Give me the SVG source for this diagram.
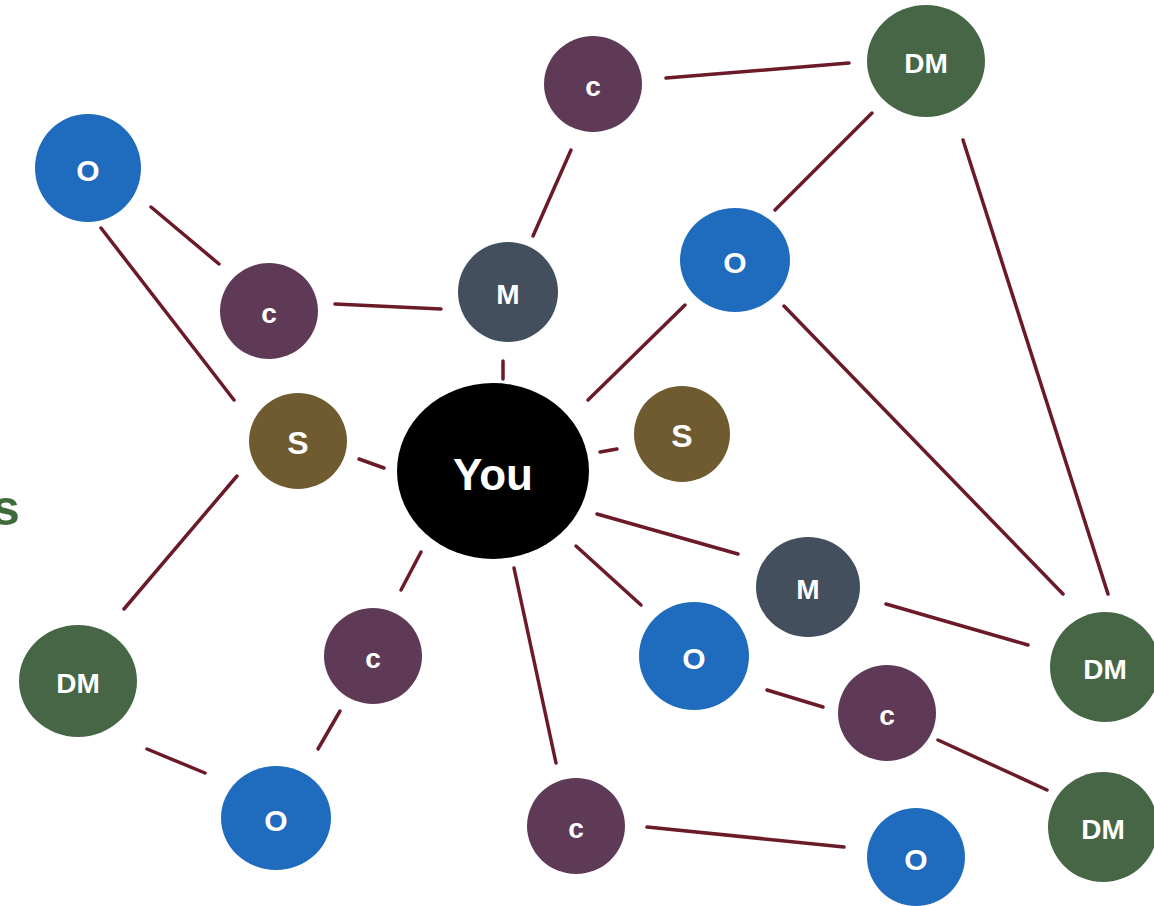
<svg xmlns="http://www.w3.org/2000/svg" width="1154" height="906" viewBox="0 0 1154 906">
<style>
.e{stroke:#6b1a28;stroke-width:3.5;stroke-linecap:round;fill:none}
.t{fill:#fff;font-family:"Liberation Sans",Arial,sans-serif;font-weight:bold;text-anchor:middle;dominant-baseline:central}
.o{fill:#1f6bbd}.c{fill:#5f3a56}.m{fill:#434f5d}.s{fill:#6f5b2f}.d{fill:#466646}.y{fill:#000}
</style>
<rect width="1154" height="906" fill="#fff"/>
<text x="-8" y="508" font-family="Liberation Sans,Arial,sans-serif" font-weight="bold" font-size="50" fill="#3f6a3a" dominant-baseline="central">s</text>
<g id="connectors">
<line class="e" x1="666" y1="78" x2="849" y2="63"/>
<line class="e" x1="571" y1="150" x2="533" y2="236"/>
<line class="e" x1="872" y1="113" x2="775" y2="210"/>
<line class="e" x1="963" y1="140" x2="1108" y2="594"/>
<line class="e" x1="151" y1="207" x2="219" y2="264"/>
<line class="e" x1="101" y1="228" x2="234" y2="400"/>
<line class="e" x1="335" y1="304" x2="441" y2="309"/>
<line class="e" x1="503" y1="361" x2="503" y2="379"/>
<line class="e" x1="685" y1="305" x2="588" y2="400"/>
<line class="e" x1="784" y1="306" x2="1063" y2="594"/>
<line class="e" x1="359" y1="459" x2="384" y2="468"/>
<line class="e" x1="600" y1="452" x2="617" y2="449"/>
<line class="e" x1="237" y1="476" x2="124" y2="609"/>
<line class="e" x1="597" y1="514" x2="738" y2="554"/>
<line class="e" x1="886" y1="604" x2="1028" y2="645"/>
<line class="e" x1="576" y1="546" x2="641" y2="605"/>
<line class="e" x1="421" y1="552" x2="401" y2="590"/>
<line class="e" x1="514" y1="568" x2="556" y2="763"/>
<line class="e" x1="767" y1="690" x2="823" y2="707"/>
<line class="e" x1="938" y1="740" x2="1047" y2="790"/>
<line class="e" x1="340" y1="711" x2="318" y2="749"/>
<line class="e" x1="147" y1="749" x2="205" y2="773"/>
<line class="e" x1="647" y1="827" x2="844" y2="847"/>
</g>
<g id="you"><ellipse class="y" cx="493" cy="471" rx="96" ry="88"/><text class="t" x="493" y="474" font-size="44">You</text></g>
<g id="c1"><ellipse class="c" cx="593" cy="84" rx="49" ry="48"/><text class="t" x="593" y="86" font-size="28">c</text></g>
<g id="dm1"><ellipse class="d" cx="926" cy="61" rx="59" ry="56"/><text class="t" x="926" y="63" font-size="28">DM</text></g>
<g id="o1"><ellipse class="o" cx="88" cy="168" rx="53" ry="54"/><text class="t" x="88" y="170" font-size="30">O</text></g>
<g id="c2"><ellipse class="c" cx="269" cy="311" rx="49" ry="48"/><text class="t" x="269" y="313" font-size="28">c</text></g>
<g id="m1"><ellipse class="m" cx="508" cy="292" rx="50" ry="50"/><text class="t" x="508" y="294" font-size="28">M</text></g>
<g id="o2"><ellipse class="o" cx="735" cy="260" rx="55" ry="52"/><text class="t" x="735" y="262" font-size="30">O</text></g>
<g id="s1"><ellipse class="s" cx="298" cy="441" rx="49" ry="48"/><text class="t" x="298" y="443" font-size="32">S</text></g>
<g id="s2"><ellipse class="s" cx="682" cy="434" rx="48" ry="48"/><text class="t" x="682" y="436" font-size="32">S</text></g>
<g id="m2"><ellipse class="m" cx="808" cy="587" rx="52" ry="50"/><text class="t" x="808" y="589" font-size="28">M</text></g>
<g id="dm2"><ellipse class="d" cx="1105" cy="667" rx="55" ry="55"/><text class="t" x="1105" y="669" font-size="28">DM</text></g>
<g id="dm3"><ellipse class="d" cx="78" cy="681" rx="59" ry="56"/><text class="t" x="78" y="683" font-size="28">DM</text></g>
<g id="c3"><ellipse class="c" cx="373" cy="656" rx="49" ry="48"/><text class="t" x="373" y="658" font-size="28">c</text></g>
<g id="o3"><ellipse class="o" cx="694" cy="656" rx="55" ry="54"/><text class="t" x="694" y="658" font-size="30">O</text></g>
<g id="c4"><ellipse class="c" cx="887" cy="713" rx="49" ry="48"/><text class="t" x="887" y="715" font-size="28">c</text></g>
<g id="dm4"><ellipse class="d" cx="1103" cy="827" rx="55" ry="55"/><text class="t" x="1103" y="829" font-size="28">DM</text></g>
<g id="o4"><ellipse class="o" cx="276" cy="818" rx="55" ry="52"/><text class="t" x="276" y="820" font-size="30">O</text></g>
<g id="c5"><ellipse class="c" cx="576" cy="826" rx="49" ry="48"/><text class="t" x="576" y="828" font-size="28">c</text></g>
<g id="o5"><ellipse class="o" cx="916" cy="857" rx="49" ry="49"/><text class="t" x="916" y="859" font-size="30">O</text></g>
</svg>
